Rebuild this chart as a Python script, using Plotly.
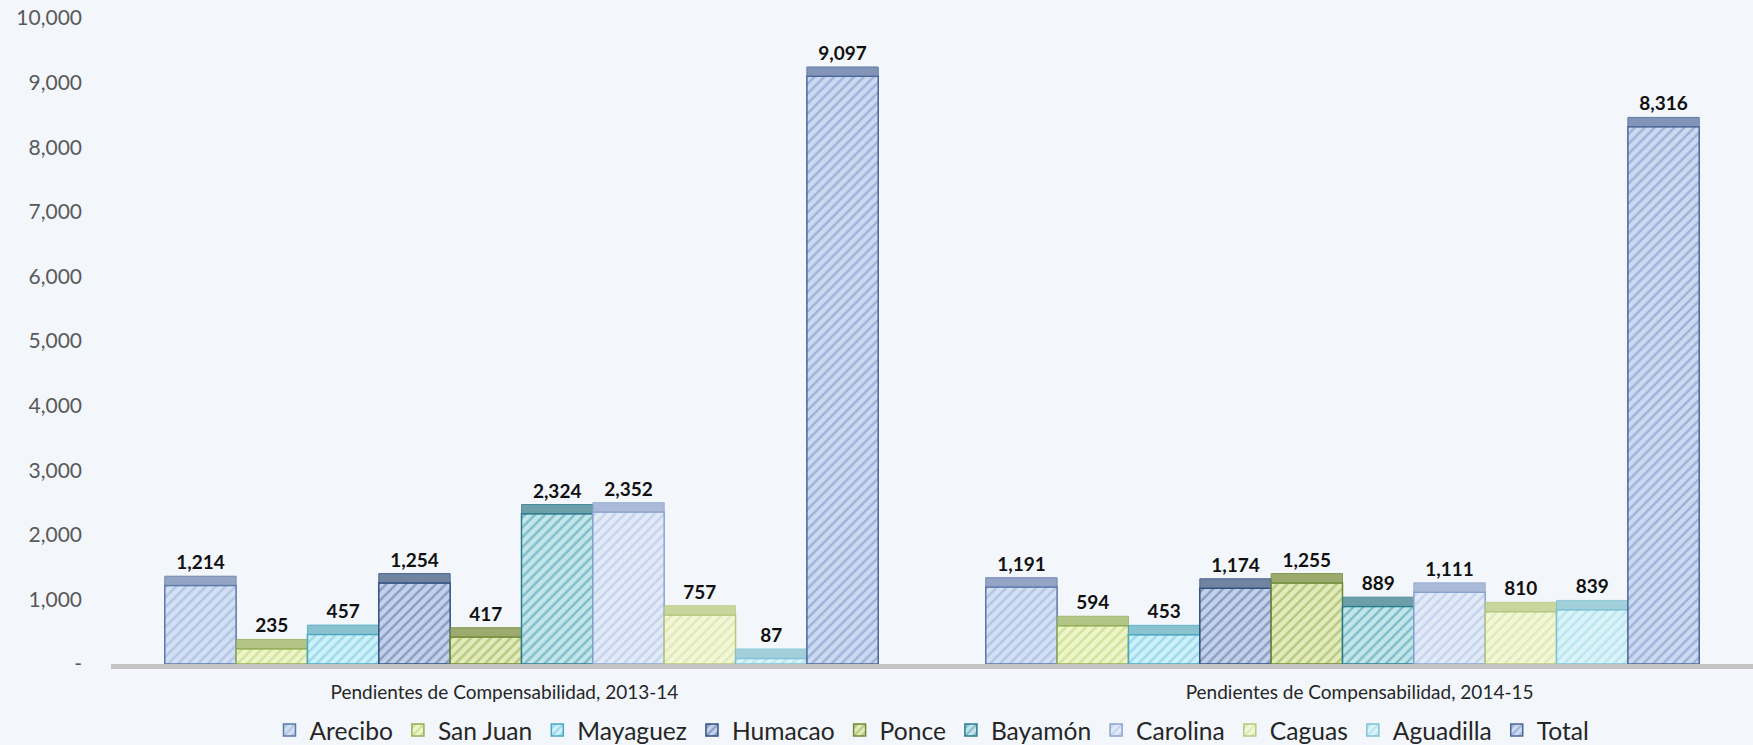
import plotly.graph_objects as go

categories = ["Pendientes de Compensabilidad, 2013-14", "Pendientes de Compensabilidad, 2014-15"]
series_names = ["Arecibo", "San Juan", "Mayaguez", "Humacao", "Ponce",
                "Bayamón", "Carolina", "Caguas", "Aguadilla", "Total"]
values_2013_14 = [1214, 235, 457, 1254, 417, 2324, 2352, 757, 87, 9097]
values_2014_15 = [1191, 594, 453, 1174, 1255, 889, 1111, 810, 839, 8316]

y_tickvals = [0, 1000, 2000, 3000, 4000, 5000, 6000, 7000, 8000, 9000, 10000]
y_ticktext = ["-", "1,000", "2,000", "3,000", "4,000", "5,000",
              "6,000", "7,000", "8,000", "9,000", "10,000"]

# (background fill, stripe colour, border colour, top-face colour)
styles = [
    ("#d3e0f3", "#8fa9d6", "#5a78a8", "#8396bb"),
    ("#edf5c9", "#b5cf6e", "#93ad54", "#a9bd72"),
    ("#cdf1fa", "#6cc0d8", "#4aa6c0", "#78b9c9"),
    ("#c4d1ea", "#4d6a9c", "#2f4f7f", "#5a6f92"),
    ("#e3ebbb", "#8aa44a", "#6f8a36", "#8d9d55"),
    ("#c3e6ea", "#3c93a8", "#2b7b8e", "#55909c"),
    ("#e2eaf8", "#a7bde3", "#8aa2cf", "#9eb0d2"),
    ("#f2f7d8", "#cddc9a", "#b5c97c", "#c2d08e"),
    ("#d9f3f9", "#9ed6e6", "#7fc2d6", "#96c9d6"),
    ("#ccd9f0", "#6f8cc4", "#4a6697", "#6f84ad"),
]
TOP_FACE = 145  # visual depth of the bar top face, in axis units (style only)
BG = "#f3f7fc"

FONT = "Lato"
fig = go.Figure()
for i, name in enumerate(series_names):
    bg, fg, ln, top = styles[i]
    vals = [values_2013_14[i], values_2014_15[i]]
    fig.add_trace(go.Bar(
        name=name,
        x=categories,
        y=vals,
        offsetgroup=str(i),
        marker=dict(
            color=bg,
            line=dict(color=ln, width=1.5),
            pattern=dict(shape="/", fgcolor=fg, size=7, solidity=0.35, fillmode="overlay"),
        ),
        hoverinfo="skip",
    ))
    # top face of the bar, carrying the data label
    fig.add_trace(go.Bar(
        name=name,
        x=categories,
        y=[TOP_FACE] * len(vals),
        base=vals,
        offsetgroup=str(i),
        showlegend=False,
        marker=dict(color=top, line=dict(color=ln, width=1), opacity=0.85),
        text=[f"{v:,}" for v in vals],
        texttemplate="%{text}",
        textposition="outside",
        textfont=dict(family=FONT, size=19, color="#111111", weight="bold"),
        cliponaxis=False,
        hoverinfo="skip",
    ))

# category labels sit on the front edge of the (perspective) floor, slightly spread apart
fig.add_trace(go.Scatter(
    x=list(range(len(categories))), y=[0] * len(categories),
    xaxis="x2", yaxis="y", mode="markers",
    marker=dict(opacity=0), showlegend=False, hoverinfo="skip",
))

fig.update_layout(
    width=1753, height=745,
    barmode="group", bargap=0.131, bargroupgap=0,
    paper_bgcolor=BG, plot_bgcolor="rgba(0,0,0,0)",
    margin=dict(l=111, r=0, t=18, b=81, autoexpand=False),
    font=dict(family=FONT, color="#404040"),
    legend=dict(orientation="h", x=0.5, xanchor="center",
                yref="container", y=0.02, yanchor="middle",
                font=dict(family=FONT, size=24.6, color="#262626"),
                bgcolor="rgba(0,0,0,0)", traceorder="normal",
                itemwidth=30, tracegroupgap=0),
    showlegend=True,
    xaxis=dict(
        showgrid=False, zeroline=False,
        showline=True, linecolor="#c4c4c4", linewidth=5, layer="below traces",
        ticks="", showticklabels=False,
    ),
    xaxis2=dict(
        overlaying="x", anchor="y", side="bottom",
        range=[-0.46, 1.46],
        tickvals=list(range(len(categories))), ticktext=categories,
        showgrid=False, zeroline=False, showline=False, ticks="",
        ticklabelstandoff=15,
        tickfont=dict(family=FONT, size=19, color="#262626"),
    ),
    yaxis=dict(
        range=[0, 10000], showgrid=False, zeroline=False, showline=False,
        tickvals=y_tickvals, ticktext=y_ticktext, ticks="",
        ticklabelstandoff=28,
        tickfont=dict(family=FONT, size=21, color="#595959"),
    ),
)

fig.write_html(
    "out.html",
    config={"displayModeBar": False},
    post_script=f"document.body.style.margin='0px';document.body.style.background='{BG}';",
)
